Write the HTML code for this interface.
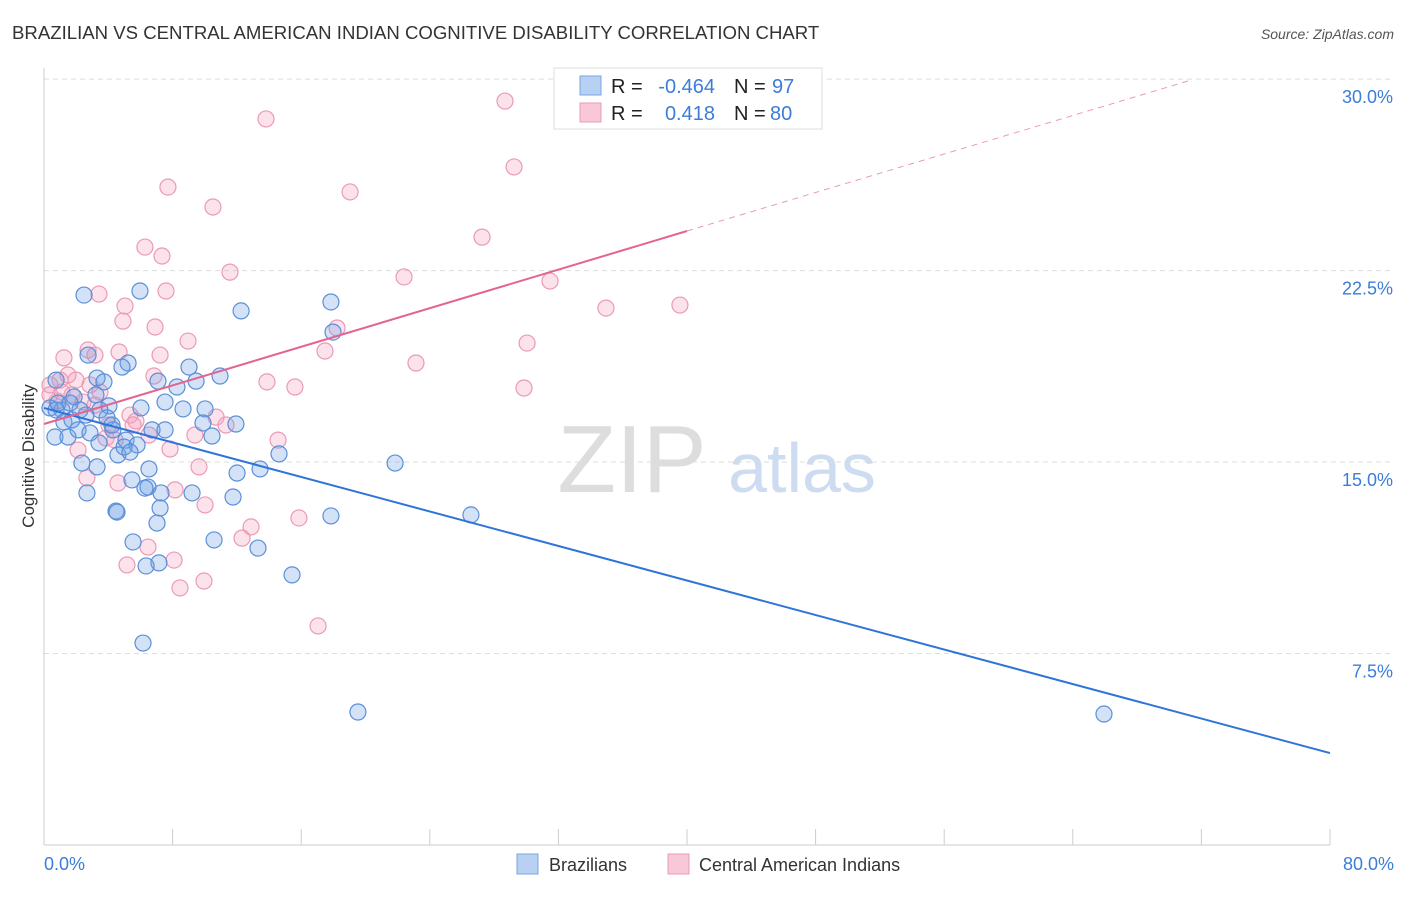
<!DOCTYPE html>
<html><head><meta charset="utf-8"><style>
body{margin:0;background:#fff;font-family:"Liberation Sans",sans-serif;}
svg text{font-family:"Liberation Sans",sans-serif;}
</style></head><body>
<svg id="chart" width="1406" height="892">
<text x="12" y="39" font-size="18.6" fill="#333">BRAZILIAN VS CENTRAL AMERICAN INDIAN COGNITIVE DISABILITY CORRELATION CHART</text>
<text x="1394" y="39" font-size="14" fill="#555" font-style="italic" text-anchor="end">Source: ZipAtlas.com</text>
<g id="grid"></g>
<text x="632" y="492" font-size="96" fill="#ddd" font-family="Liberation Serif" text-anchor="middle">ZIP</text>
<text x="802" y="492" font-size="70" fill="#cddcf0" text-anchor="middle">atlas</text>
<line x1="44" y1="68" x2="44" y2="845" stroke="#ccc"/>
<line x1="44" y1="845" x2="1330" y2="845" stroke="#ccc"/>
<g id="xticks"></g>
<g id="pts"></g>
<g id="lines"></g>
<text x="34" y="456" font-size="17" fill="#333" text-anchor="middle" transform="rotate(-90 34 456)">Cognitive Disability</text>
<text x="44" y="870" font-size="18" fill="#3b7dd8">0.0%</text>
<text x="1394" y="870" font-size="18" fill="#3b7dd8" text-anchor="end">80.0%</text>
<g>
<rect x="554" y="68" width="268" height="61" fill="#fff" stroke="#ddd"/>
<rect x="580" y="76" width="21" height="19" fill="#b8d0f2" stroke="#7aa6e6"/>
<rect x="580" y="103" width="21" height="19" fill="#f8c8d8" stroke="#eb9ab5"/>
<text x="611" y="93" font-size="20" fill="#222">R =</text><text x="715" y="93" font-size="20" fill="#3b7dd8" text-anchor="end">-0.464</text>
<text x="734" y="93" font-size="20" fill="#222">N =</text><text x="772" y="93" font-size="20" fill="#3b7dd8">97</text>
<text x="611" y="120" font-size="20" fill="#222">R =</text><text x="715" y="120" font-size="20" fill="#3b7dd8" text-anchor="end">0.418</text>
<text x="734" y="120" font-size="20" fill="#222">N =</text><text x="770" y="120" font-size="20" fill="#3b7dd8">80</text>
</g>
<g>
<rect x="517" y="854" width="21" height="20" fill="#b8d0f2" stroke="#7aa6e6"/>
<text x="549" y="871" font-size="18" fill="#333">Brazilians</text>
<rect x="668" y="854" width="21" height="20" fill="#f8c8d8" stroke="#eb9ab5"/>
<text x="699" y="871" font-size="18" fill="#333">Central American Indians</text>
</g>
</svg>
<script>
const yTicks=[7.5,15,22.5,30];
const yTickLabels=["7.5%","15.0%","22.5%","30.0%"];
const xTicks=[0,8,16,24,32,40,48,56,64,72,80];
const blueX=[2.49,5.97,12.26,17.85,17.98,0.75,2.74,3.30,3.73,5.23,4.85,7.09,9.02,8.27,9.46,10.95,11.94,10.02,8.65,7.53,6.03,4.04,3.23,1.87,1.12,0.37,0.68,1.49,2.12,2.86,3.42,4.29,5.10,5.79,6.72,7.53,10.45,9.89,2.36,3.30,6.53,12.01,13.44,14.62,21.84,2.67,5.47,6.47,7.28,9.21,11.76,4.48,4.54,7.22,7.03,5.54,10.58,13.31,7.15,6.35,15.43,17.85,26.56,6.16,19.53,65.94,0.75,1.24,1.74,2.61,3.92,4.60,4.98,0.87,1.62,2.24,3.48,4.23,5.35,6.28];
const blueY=[21.54,21.70,20.92,21.27,20.09,18.21,19.19,18.29,18.14,18.88,18.72,18.17,18.72,17.94,18.17,18.37,16.49,17.08,17.08,17.35,17.12,17.20,17.63,17.55,17.04,17.12,15.98,15.98,16.26,16.14,15.75,16.26,15.86,15.67,16.26,16.26,16.02,16.53,14.96,14.81,14.73,14.57,14.73,15.32,14.96,13.79,14.30,14.02,13.79,13.79,13.63,13.08,13.04,13.20,12.61,11.87,11.95,11.63,11.05,10.93,10.58,12.89,12.93,7.91,5.21,5.13,17.04,16.57,16.65,16.84,16.73,15.28,15.59,17.31,17.31,17.04,17.04,16.45,15.39,13.98];
const pinkX=[28.68,13.81,29.24,7.71,19.04,10.51,27.25,6.28,7.34,11.57,22.40,31.48,3.42,7.59,5.04,34.96,39.56,4.91,6.91,18.23,8.96,30.05,17.48,2.74,1.24,3.17,4.67,7.22,23.14,6.84,13.87,15.61,29.86,1.99,1.00,0.37,1.49,1.74,2.86,3.48,0.81,2.43,5.35,4.04,5.72,6.53,10.70,11.32,14.56,9.39,2.12,3.86,7.84,9.64,2.67,4.60,8.15,10.02,15.86,12.88,12.32,6.47,8.09,5.16,8.46,9.95,17.05,0.37,1.12,3.17,4.42,5.54,32.41];
const pinkY=[29.14,28.44,26.56,25.77,25.58,24.99,23.81,23.42,23.07,22.44,22.25,22.09,21.58,21.70,21.11,21.03,21.15,20.52,20.29,20.25,19.74,19.66,19.35,19.39,19.08,19.19,19.31,19.19,18.88,18.37,18.14,17.94,17.90,18.21,18.21,18.02,18.41,17.63,18.02,17.74,17.39,17.35,16.84,16.45,16.61,16.06,16.76,16.45,15.86,16.06,15.47,15.94,15.51,14.81,14.38,14.18,13.91,13.32,12.81,12.46,12.02,11.67,11.16,10.97,10.07,10.34,8.58,17.63,17.74,17.23,15.86,16.45,29.57];
const blueTrend=[[0,17.12],[80,3.6]];
const pinkTrendSolid=[[0,16.49],[40,24.05]];
const pinkTrendEnd=[71.3,29.95];

const NS="http://www.w3.org/2000/svg";
const sx=v=>44+v*16.075;
const sy=v=>845-v*25.53;
function mk(tag,attrs,parent){const e=document.createElementNS(NS,tag);for(const k in attrs)e.setAttribute(k,attrs[k]);parent.appendChild(e);return e;}
const grid=document.getElementById('grid');
yTicks.forEach((t,i)=>{
  const l=mk('line',{x1:44,x2:1394,y1:sy(t),y2:sy(t),stroke:'#ddd','stroke-dasharray':'5,4'},grid);
  
  
  const tx=mk('text',{x:1393,y:sy(t)+24,'font-size':18,fill:'#3b7dd8','text-anchor':'end'},grid);
  tx.textContent=yTickLabels[i];
  
  
});
const xt=document.getElementById('xticks');
xTicks.forEach(t=>{
  const l=mk('line',{x1:sx(t),x2:sx(t),y1:829,y2:845,stroke:'#ccc'},xt);
  
  
});
const pts=document.getElementById('pts');
pinkX.forEach((x,i)=>{
  const c=mk('circle',{cx:sx(x),cy:sy(pinkY[i]),r:8,fill:'rgba(244,160,190,0.3)',stroke:'#eb9ab5','stroke-width':1.2},pts);
  
  
});
blueX.forEach((x,i)=>{
  const c=mk('circle',{cx:sx(x),cy:sy(blueY[i]),r:8,fill:'rgba(110,160,230,0.3)',stroke:'#5b8fd8','stroke-width':1.2},pts);
  
  
});
const lg=document.getElementById('lines');
const bl=mk('line',{x1:sx(blueTrend[0][0]),y1:sy(blueTrend[0][1]),x2:sx(blueTrend[1][0]),y2:sy(blueTrend[1][1]),stroke:'#2f74d8','stroke-width':2},lg);


const pl=mk('line',{x1:sx(pinkTrendSolid[0][0]),y1:sy(pinkTrendSolid[0][1]),x2:sx(pinkTrendSolid[1][0]),y2:sy(pinkTrendSolid[1][1]),stroke:'#e5638f','stroke-width':2},lg);


const pd=mk('line',{x1:sx(pinkTrendSolid[1][0]),y1:sy(pinkTrendSolid[1][1]),x2:sx(pinkTrendEnd[0]),y2:sy(pinkTrendEnd[1]),stroke:'#eb9ab5','stroke-width':1,'stroke-dasharray':'6,5'},lg);


</script>
</body></html>
